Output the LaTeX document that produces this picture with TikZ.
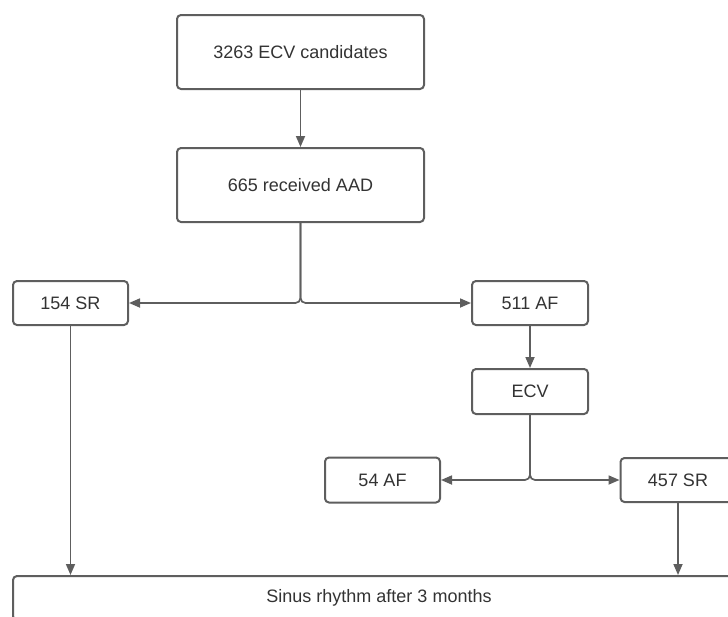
\documentclass[tikz,border=0pt]{standalone}
\usepackage{fontspec}
\setmainfont{Liberation Sans}
\usetikzlibrary{arrows.meta}
\definecolor{ln}{HTML}{5E5E5E}
\definecolor{tx}{HTML}{333333}
\begin{document}
\begin{tikzpicture}[x=1pt,y=-1pt,
 box/.style={draw=ln, line width=2pt, rounded corners=4pt, fill=white, text=tx,
   font=\fontsize{18}{22}\selectfont, inner sep=0pt},
 conn/.style={draw=ln, line width=1.7pt, rounded corners=5pt, -{Triangle[length=11pt,width=9pt]}},
]
\useasboundingbox (0,0) rectangle (728,616);
\clip (0,0) rectangle (728,616);
\node[box, minimum width=247, minimum height=74] (cand) at (300.5,52) {3263 ECV candidates};
\node[box, minimum width=247, minimum height=74] (aad) at (300.5,185) {665 received AAD};
\node[box, minimum width=115, minimum height=44] (sra) at (70.5,303) {154 SR};
\node[box, minimum width=116, minimum height=44] (afa) at (530,303) {511 AF};
\node[box, minimum width=116, minimum height=45] (ecv) at (530,391.5) {ECV};
\node[box, minimum width=115, minimum height=45] (afb) at (382.5,480) {54 AF};
\node[box, minimum width=115, minimum height=44] (srb) at (678,480) {457 SR};
\node[box, minimum width=732, minimum height=44, anchor=north] (sinus) at (379,575) {Sinus rhythm after 3 months};
\draw[conn] (cand.south) -- (aad.north);
\draw[conn] (aad.south) |- (sra.east);
\draw[conn] (aad.south) |- (afa.west);
\draw[conn] (afa.south) -- (ecv.north);
\draw[conn] (ecv.south) |- (afb.east);
\draw[conn] (ecv.south) |- (srb.west);
\draw[conn] (sra.south) -- (sra.south |- sinus.north);
\draw[conn] (srb.south) -- (srb.south |- sinus.north);
\end{tikzpicture}
\end{document}
